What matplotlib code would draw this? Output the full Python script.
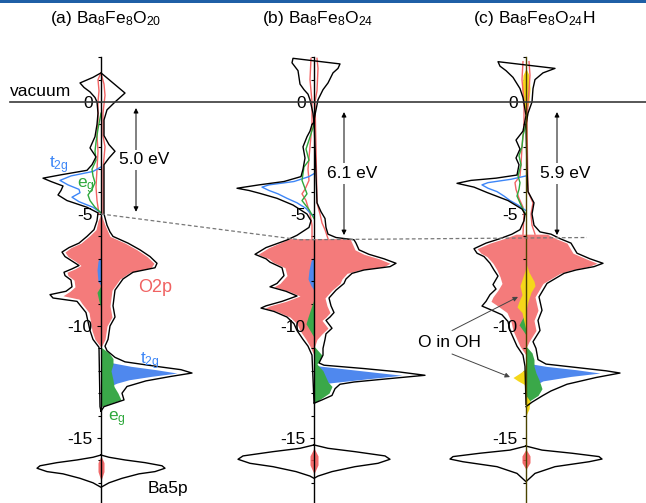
import numpy as np
import matplotlib.pyplot as plt

plt.rcParams['font.family'] = ['Liberation Sans', 'DejaVu Sans']
plt.rcParams['mathtext.fontset'] = 'custom'
plt.rcParams['mathtext.rm'] = 'Liberation Sans'
plt.rcParams['mathtext.it'] = 'Liberation Sans'
plt.rcParams['mathtext.default'] = 'regular'
plt.rcParams['axes.unicode_minus'] = False

# ---- DOS: (energy in eV, width; left = spin up, right = spin down)
# panel (a) Ba8Fe8O20
A_TOT_L = [(1.3, 0), (1.1, -8), (0.85, -21), (0.65, -17), (0.45, -11), (0.2, -6), (0.0, -4),
           (-0.5, -3), (-1.0, -4), (-1.55, -6), (-2.05, -11), (-2.45, -5), (-2.8, -9), (-3.05, -14),
           (-3.25, -40), (-3.4, -58), (-3.55, -50), (-3.75, -38), (-3.95, -40), (-4.15, -43),
           (-4.4, -34), (-4.7, -14), (-4.95, -3), (-5.3, -4), (-5.7, -7), (-6.0, -14), (-6.3, -22),
           (-6.5, -32), (-6.7, -39), (-6.9, -36), (-7.1, -29), (-7.3, -22), (-7.45, -29), (-7.6, -37),
           (-7.75, -36), (-7.95, -30), (-8.25, -29), (-8.45, -35), (-8.6, -51), (-8.75, -48),
           (-8.9, -24), (-9.4, -15), (-10.2, -11), (-10.6, -8), (-10.95, -2), (-13.6, -1), (-13.8, 0)]
A_TOT_R = [(1.3, 0), (1.0, 8), (0.7, 16), (0.4, 24), (0.2, 19), (0.0, 14), (-0.35, 6), (-0.8, 3),
           (-1.5, 3), (-1.9, 8), (-2.2, 14), (-2.5, 8), (-2.8, 3), (-5.0, 3), (-5.5, 6), (-5.8, 9),
           (-6.0, 12), (-6.3, 27), (-6.6, 39), (-6.9, 49), (-7.2, 56), (-7.4, 54), (-7.6, 32),
           (-7.9, 22), (-8.4, 14), (-9.1, 12), (-9.6, 14), (-10.0, 9), (-10.6, 7), (-10.9, 4),
           (-11.1, 6), (-11.4, 14), (-11.6, 24), (-11.8, 55), (-11.95, 80), (-12.1, 91), (-12.25, 70),
           (-12.45, 45), (-12.7, 26), (-13.0, 21), (-13.3, 23), (-13.6, 3), (-13.8, 0)]
A_O2P_LINE_L = [(1.3, 0), (1.0, -3), (0.5, -2), (0.0, -3), (-0.8, -3), (-1.5, -4), (-2.2, -3),
                (-3.0, -4), (-3.8, -5), (-4.4, -4), (-5.0, -2)]
A_O2P_LINE_R = [(1.3, 0), (0.8, 3), (0.3, 4), (-0.5, 2), (-1.5, 2), (-2.0, 4), (-3.0, 2), (-5.0, 2)]
A_O2P_FILL_L = [(-5.0, 0), (-5.3, -3), (-5.7, -5), (-6.0, -12), (-6.3, -20), (-6.5, -30), (-6.7, -36),
                (-6.9, -33), (-7.1, -26), (-7.3, -20), (-7.45, -26), (-7.6, -34), (-7.75, -33),
                (-7.95, -27), (-8.25, -26), (-8.45, -31), (-8.65, -38), (-8.8, -22), (-9.0, -19),
                (-9.4, -12), (-10.2, -9), (-10.6, -6), (-10.95, 0)]
A_O2P_FILL_R = [(-5.0, 0), (-5.5, 4), (-5.8, 7), (-6.0, 9), (-6.3, 24), (-6.6, 36), (-6.9, 46),
                (-7.2, 53), (-7.4, 50), (-7.6, 29), (-7.9, 19), (-8.4, 11), (-9.1, 9), (-9.6, 11),
                (-10.0, 6), (-10.6, 4), (-10.95, 0)]
A_T2G_LINE_L = [(-2.9, 0), (-3.1, -8), (-3.3, -30), (-3.5, -41), (-3.7, -33), (-3.9, -22), (-4.05, -21),
                (-4.25, -29), (-4.45, -22), (-4.7, -8), (-4.95, 0)]
A_T2G_FILL_L = [(-6.9, 0), (-7.1, -3), (-7.5, -4), (-8.0, -3), (-8.2, 0)]
A_T2G_FILL_R = [(-11.6, 0), (-11.65, 12), (-11.8, 30), (-11.95, 55), (-12.1, 76), (-12.25, 50),
                (-12.4, 28), (-12.55, 16), (-12.7, 8), (-12.9, 0)]
A_EG_LINE_L = [(-0.5, 0), (-1.2, -3), (-1.8, -5), (-2.2, -6), (-2.6, -5), (-3.0, -9), (-3.3, -8),
               (-3.6, -6), (-3.9, -9), (-4.15, -13), (-4.4, -11), (-4.7, -6), (-4.95, 0)]
A_EG_FILL_L = [(-8.2, 0), (-8.5, -4), (-8.9, -2), (-9.2, 0)]
A_EG_FILL_R = [(-10.95, 0), (-11.2, 8), (-11.45, 12), (-11.7, 12), (-12.0, 10), (-12.4, 12),
               (-12.7, 13), (-13.0, 17), (-13.3, 20), (-13.6, 0)]
A_BA = [(-15.76, 0), (-15.86, 8), (-15.98, 24), (-16.1, 44), (-16.24, 61), (-16.35, 64), (-16.5, 54),
        (-16.6, 38), (-16.8, 21), (-17.0, 8), (-17.2, 0)]
A_BA_RED = [(-15.8, 0), (-16.1, 3), (-16.5, 3), (-16.9, 0)]

# panel (b) Ba8Fe8O24
B_TOT_L = [(1.95, -21), (1.75, -22), (1.4, -16), (1.1, -15), (0.8, -14), (0.55, -10), (0.35, -6),
           (0.1, -4), (-0.1, -3), (-0.5, -1), (-0.9, 0), (-1.0, -2), (-1.3, -4), (-1.55, -7),
           (-2.0, -11), (-2.5, -9), (-3.0, -11), (-3.33, -13), (-3.55, -30), (-3.7, -55), (-3.85, -77),
           (-3.95, -65), (-4.08, -54), (-4.3, -37), (-4.6, -21), (-4.8, -14), (-5.0, -7), (-5.3, -3),
           (-5.6, -5), (-5.95, -17), (-6.16, -27), (-6.5, -48), (-6.8, -59), (-7.0, -48), (-7.15, -44),
           (-7.4, -32), (-7.75, -30), (-8.1, -37), (-8.25, -44), (-8.45, -28), (-8.66, -17),
           (-8.9, -32), (-9.1, -48), (-9.2, -53), (-9.35, -40), (-9.6, -27), (-9.9, -20),
           (-10.2, -17), (-10.6, -11), (-10.9, -6), (-11.3, -2), (-13.4, 0)]
B_TOT_R = [(1.7, 26), (1.5, 24), (1.3, 19), (0.85, 14), (0.55, 9), (0.1, 4), (-0.8, 0), (-2.0, 1),
           (-4.5, 3), (-4.9, 7), (-5.2, 11), (-5.6, 12), (-5.9, 14), (-6.05, 22), (-6.15, 40),
           (-6.3, 42), (-6.6, 45), (-6.8, 55), (-7.0, 70), (-7.2, 82), (-7.35, 76), (-7.5, 50),
           (-7.65, 38), (-7.9, 32), (-8.1, 30), (-8.4, 22), (-8.75, 15), (-9.1, 17), (-9.4, 20),
           (-9.6, 16), (-9.75, 12), (-10.1, 18), (-10.35, 12), (-10.6, 11), (-11.0, 9), (-11.3, 9),
           (-11.65, 5), (-11.75, 10), (-11.9, 50), (-12.05, 85), (-12.2, 111), (-12.35, 75),
           (-12.5, 40), (-12.6, 26), (-12.8, 21), (-13.1, 18), (-13.3, 8), (-13.45, 0)]
B_O2P_LINE_L = [(1.95, -3), (1.0, -4), (0.0, -2), (-1.0, -2), (-2.0, -4), (-3.0, -6), (-3.5, -5),
                (-3.9, -9), (-4.1, -12), (-4.4, -8), (-5.0, -4), (-5.5, -2), (-6.1, -2)]
B_O2P_LINE_R = [(1.95, 3), (1.5, 4), (0.5, 3), (0.0, 1), (-2.0, 2), (-4.5, 3), (-5.0, 6), (-5.4, 8),
                (-5.7, 11), (-6.1, 14)]
B_O2P_FILL_L = [(-6.1, 0), (-6.1, -24), (-6.5, -45), (-6.8, -56), (-7.0, -45), (-7.15, -41),
                (-7.4, -29), (-7.75, -27), (-8.1, -34), (-8.25, -40), (-8.45, -25), (-8.66, -14),
                (-8.9, -28), (-9.1, -44), (-9.2, -49), (-9.35, -37), (-9.6, -24), (-9.9, -17),
                (-10.2, -14), (-10.6, -8), (-10.9, -4), (-11.3, 0)]
B_O2P_FILL_R = [(-6.1, 0), (-6.1, 36), (-6.3, 38), (-6.6, 41), (-6.8, 50), (-7.0, 65), (-7.2, 76),
                (-7.35, 70), (-7.5, 45), (-7.65, 33), (-7.9, 28), (-8.1, 26), (-8.4, 18), (-8.75, 11),
                (-9.1, 13), (-9.4, 16), (-9.6, 12), (-9.75, 8), (-10.1, 14), (-10.35, 8), (-10.6, 3),
                (-11.0, 0)]
B_T2G_LINE_L = [(-3.2, 0), (-3.33, -5), (-3.55, -20), (-3.7, -45), (-3.8, -52), (-3.95, -45),
                (-4.1, -36), (-4.3, -27), (-4.5, -17), (-4.75, -8), (-5.0, -3), (-5.1, 0)]
B_T2G_FILL_L = [(-6.9, 0), (-7.1, -3), (-7.5, -5), (-7.9, -6), (-8.2, -3), (-8.4, 0)]
B_T2G_FILL_R = [(-11.75, 0), (-11.8, 8), (-12.0, 48), (-12.2, 88), (-12.35, 55), (-12.55, 14),
                (-12.8, 5), (-13.0, 0)]
B_EG_LINE_L = [(-1.0, 0), (-1.7, -5), (-2.1, -8), (-2.6, -5), (-2.9, -10), (-3.5, -12), (-4.1, -7),
               (-4.4, -12), (-4.8, -5), (-5.2, 0)]
B_EG_FILL_L = [(-8.8, 0), (-9.2, -3), (-9.6, -6), (-9.9, -8), (-10.2, -4), (-10.5, 0)]
B_EG_FILL_R = [(-10.9, 0), (-11.1, 4), (-11.3, 8), (-11.5, 6), (-11.7, 3), (-12.0, 9), (-12.3, 12),
               (-12.5, 14), (-12.7, 18), (-13.0, 15), (-13.3, 5), (-13.45, 0)]
B_BA = [(-15.31, 0), (-15.46, 14), (-15.61, 41), (-15.8, 71), (-15.95, 76), (-16.13, 64),
        (-16.28, 41), (-16.5, 18), (-16.7, 4), (-16.8, 0)]
B_BA_RED = [(-15.45, 0), (-15.8, 4), (-16.2, 4), (-16.6, 0)]

# panel (c) Ba8Fe8O24H
C_TOT_L = [(1.8, -28), (1.6, -26), (1.4, -20), (1.1, -13), (0.6, -6), (0.2, -3), (-0.6, 0),
           (-1.3, -3), (-1.7, -10), (-2.1, -6), (-2.5, -10), (-2.8, -7), (-3.26, -9), (-3.4, -30),
           (-3.5, -55), (-3.63, -69), (-3.8, -52), (-4.04, -39), (-4.4, -18), (-4.78, -4), (-5.0, -1),
           (-5.3, -2), (-5.7, -6), (-5.9, -14), (-6.1, -26), (-6.3, -40), (-6.55, -52), (-6.75, -49),
           (-6.9, -42), (-7.2, -36), (-7.5, -32), (-7.77, -28), (-8.15, -33), (-8.35, -30),
           (-8.6, -36), (-8.9, -40), (-9.11, -44), (-9.3, -34), (-9.5, -24), (-9.8, -18),
           (-10.2, -16), (-10.6, -12), (-10.9, -9), (-11.3, -3), (-11.8, -1), (-13.5, 0)]
C_TOT_R = [(1.5, 29), (1.3, 17), (1.0, 9), (0.6, 7), (0.0, 6), (-0.5, 2), (-1.0, 0), (-3.0, 1),
           (-4.0, 2), (-4.5, 8), (-5.0, 6), (-5.5, 8), (-5.8, 14), (-5.9, 25), (-6.1, 34), (-6.3, 45),
           (-6.75, 51), (-7.0, 64), (-7.2, 77), (-7.35, 68), (-7.5, 50), (-7.65, 38), (-8.1, 21),
           (-8.7, 13), (-9.3, 16), (-9.75, 12), (-10.2, 14), (-10.7, 7), (-11.0, 10), (-11.5, 12),
           (-11.7, 20), (-11.85, 50), (-12.0, 80), (-12.1, 94), (-12.3, 70), (-12.6, 41),
           (-12.9, 25), (-13.1, 17), (-13.4, 6), (-13.6, 0)]
C_O2P_LINE_L = [(1.8, -3), (1.0, -4), (0.0, -2), (-1.0, -2), (-2.0, -4), (-2.8, -5), (-3.3, -6),
                (-3.6, -11), (-3.9, -10), (-4.3, -7), (-4.7, -3), (-5.0, -2), (-5.9, -3)]
C_O2P_LINE_R = [(1.8, 3), (1.2, 4), (0.5, 3), (0.0, 2), (-1.0, 1), (-4.0, 2), (-4.5, 7), (-5.0, 5),
                (-5.5, 6), (-5.9, 9)]
C_O2P_FILL_L = [(-5.9, 0), (-5.9, -10), (-6.1, -22), (-6.3, -36), (-6.55, -49), (-6.75, -45),
                (-6.9, -39), (-7.2, -33), (-7.5, -29), (-7.8, -26), (-8.1, -24), (-8.4, -28),
                (-8.7, -33), (-8.9, -35), (-9.05, -30), (-9.4, -19), (-9.8, -15), (-10.2, -13),
                (-10.6, -9), (-10.9, -6), (-11.3, 0)]
C_O2P_FILL_R = [(-5.9, 0), (-5.9, 21), (-6.1, 30), (-6.3, 41), (-6.75, 47), (-7.0, 60), (-7.2, 71),
                (-7.35, 62), (-7.5, 45), (-7.65, 34), (-8.1, 17), (-8.7, 9), (-9.3, 12), (-9.75, 8),
                (-10.2, 10), (-10.7, 3), (-11.0, 0)]
C_T2G_LINE_L = [(-3.3, 0), (-3.45, -15), (-3.6, -38), (-3.7, -44), (-3.85, -38), (-4.0, -29),
                (-4.2, -22), (-4.4, -16), (-4.6, -8), (-4.85, 0)]
C_T2G_FILL_R = [(-11.65, 0), (-11.8, 20), (-11.95, 50), (-12.1, 74), (-12.25, 45), (-12.45, 17),
                (-12.7, 6), (-12.9, 0)]
C_EG_LINE_L = [(-1.0, 0), (-1.5, -3), (-2.0, -4), (-2.4, -7), (-2.8, -5), (-3.3, -8), (-3.6, -6),
               (-3.9, -7), (-4.2, -9), (-4.5, -6), (-4.9, -2), (-5.0, 0)]
C_EG_FILL_L = [(-9.4, 0), (-9.7, -4), (-9.95, -7), (-10.2, -3), (-10.4, 0)]
C_EG_FILL_R = [(-10.9, 0), (-11.2, 6), (-11.5, 8), (-11.8, 8), (-12.1, 10), (-12.4, 13), (-12.8, 16),
               (-13.1, 12), (-13.3, 5), (-13.5, 0)]
C_OH_TOP = [(1.5, 0), (1.2, 3), (0.6, 4), (0.0, 3), (-0.5, 0)]
C_OH_L = [(-7.4, 0), (-7.8, -3), (-8.2, -6), (-8.6, -4), (-8.9, -7), (-9.15, -9), (-9.4, -4),
          (-9.8, -2), (-10.2, 0), (-11.9, 0), (-12.1, -6), (-12.3, -13), (-12.45, -8), (-12.6, -2),
          (-12.8, 0)]
C_OH_R = [(-7.2, 0), (-7.6, 3), (-8.0, 8), (-8.2, 9), (-8.5, 5), (-8.9, 2), (-9.3, 0), (-13.1, 0),
          (-13.35, 4), (-13.7, 3), (-14.0, 0)]
C_BA = [(-15.36, 0), (-15.54, 16), (-15.68, 46), (-15.83, 73), (-15.94, 76), (-16.06, 63),
        (-16.28, 29), (-16.58, 9), (-16.95, 0)]
C_BA_RED = [(-15.5, 0), (-15.8, 4), (-16.1, 4), (-16.4, 0)]

TITLES = ['(a) Ba$_8$Fe$_8$O$_{20}$', '(b) Ba$_8$Fe$_8$O$_{24}$', '(c) Ba$_8$Fe$_8$O$_{24}$H']
GAPS = ['5.0 eV', '6.1 eV', '5.9 eV']
GAP_TOP = [-0.27, -0.45, -0.45]
GAP_BOT = [-4.9, -5.94, -5.94]
E_FERMI = [-5.0, -6.1, -5.9]

RED = '#f47b7b'
RED_LINE = '#f26464'
BLUE = '#4f88ee'
BLUE_LINE = '#3d86f7'
GREEN = '#3aa849'
GREEN_LINE = '#2ea83c'
YELLOW = '#f5d71a'

W = 646
E_TOP, E_BOT = 102 / 22.4, -401 / 22.4
AXIS_X = [101, 314, 526]

fig = plt.figure(figsize=(6.46, 5.03), dpi=100)


def xy(pts):
    e = np.array([p[0] for p in pts], dtype=float)
    w = np.array([p[1] for p in pts], dtype=float)
    return e, w


def fill(ax, pts, color, z=1):
    e, w = xy(pts)
    ax.fill_betweenx(e, 0, w, color=color, lw=0, zorder=z)


def line(ax, pts, color, lw=1.0):
    e, w = xy(pts)
    ax.plot(w, e, color=color, lw=lw, zorder=3)


def outline(ax, left, right):
    el, wl = xy(left)
    er, wr = xy(right)
    ax.plot(np.r_[wl[::-1], wr], np.r_[el[::-1], er], color='k', lw=1.0, zorder=4)


def ba5p(ax, pts, red):
    e, w = xy(pts)
    er, wr = xy(red)
    ax.fill_betweenx(er, -wr, wr, color='#f05050', alpha=0.85, lw=0, zorder=2)
    ax.plot(np.r_[-w, w[::-1]], np.r_[e, e[::-1]], color='k', lw=1.0, zorder=4)


def panel(x0):
    ax = fig.add_axes([0, 0, 1, 1])
    ax.set_xlim(-x0, W - x0)
    ax.set_ylim(E_BOT, E_TOP)
    ax.patch.set_visible(False)
    for s in ['top', 'right', 'bottom']:
        ax.spines[s].set_visible(False)
    ax.spines['left'].set_position(('data', 0))
    ax.spines['left'].set_bounds(E_BOT, 2)
    ax.spines['left'].set_zorder(5)
    ax.spines['left'].set_linewidth(1.0)
    ax.set_xticks([])
    ax.set_yticks([0, -5, -10, -15])
    ax.set_yticks(range(-17, 3), minor=True)
    ax.tick_params(axis='y', which='major', length=3, width=0.8, labelsize=12.5, pad=3)
    ax.tick_params(axis='y', which='minor', length=2.5, width=0.8)
    return ax


# (a)
ax = panel(AXIS_X[0])
fill(ax, A_O2P_FILL_L, RED); fill(ax, A_O2P_FILL_R, RED)
fill(ax, A_T2G_FILL_L, BLUE); fill(ax, A_T2G_FILL_R, BLUE)
fill(ax, A_EG_FILL_L, GREEN, 2); fill(ax, A_EG_FILL_R, GREEN, 2)
line(ax, A_O2P_LINE_L, RED_LINE); line(ax, A_O2P_LINE_R, RED_LINE)
line(ax, A_T2G_LINE_L, BLUE_LINE); line(ax, A_EG_LINE_L, GREEN_LINE)
outline(ax, A_TOT_L, A_TOT_R)
ba5p(ax, A_BA, A_BA_RED)

# (b)
ax = panel(AXIS_X[1])
fill(ax, B_O2P_FILL_L, RED); fill(ax, B_O2P_FILL_R, RED)
fill(ax, B_T2G_FILL_L, BLUE); fill(ax, B_T2G_FILL_R, BLUE)
fill(ax, B_EG_FILL_L, GREEN, 2); fill(ax, B_EG_FILL_R, GREEN, 2)
line(ax, B_O2P_LINE_L, RED_LINE); line(ax, B_O2P_LINE_R, RED_LINE)
line(ax, B_T2G_LINE_L, BLUE_LINE); line(ax, B_EG_LINE_L, GREEN_LINE)
outline(ax, B_TOT_L, B_TOT_R)
ba5p(ax, B_BA, B_BA_RED)

# (c)
ax = panel(AXIS_X[2])
fill(ax, C_O2P_FILL_L, RED); fill(ax, C_O2P_FILL_R, RED)
fill(ax, C_T2G_FILL_R, BLUE)
fill(ax, C_EG_FILL_L, GREEN, 2); fill(ax, C_EG_FILL_R, GREEN, 2)
e, w = xy(C_OH_TOP)
ax.fill_betweenx(e, -w, w, color=YELLOW, lw=0, zorder=2)
fill(ax, C_OH_L, YELLOW, 2); fill(ax, C_OH_R, YELLOW, 2)
line(ax, C_O2P_LINE_L, RED_LINE); line(ax, C_O2P_LINE_R, RED_LINE)
line(ax, C_T2G_LINE_L, BLUE_LINE); line(ax, C_EG_LINE_L, GREEN_LINE)
outline(ax, C_TOT_L, C_TOT_R)
ba5p(ax, C_BA, C_BA_RED)
ax.spines['left'].set_color('#4a4300')

# overlay: titles, vacuum level, gaps, labels
ax0 = fig.add_axes([0, 0, 1, 1])
ax0.set_xlim(0, W)
ax0.set_ylim(E_BOT, E_TOP)
ax0.axis('off')
ax0.axhspan(4.41, E_TOP, color='#1f5fa6', lw=0)

for x, t in zip([50, 262, 473], TITLES):
    ax0.text(x, 3.75, t, fontsize=12.5, ha='left', va='center')

ax0.plot([10, W], [0, 0], color='#3a3a3a', lw=1.2, zorder=6)
ax0.text(10, 0.12, 'vacuum', fontsize=12.5, ha='left', va='bottom')

ax0.plot([AXIS_X[0], 300, 587], [E_FERMI[0], -6.15, -6.05], color='#777777', lw=0.9,
         ls=(0, (3, 2)))

for x, g, top, bot in zip([136, 344, 557], GAPS, GAP_TOP, GAP_BOT):
    ax0.annotate('', xy=(x, bot), xytext=(x, top),
                 arrowprops=dict(arrowstyle='<|-|>', color='k', lw=0.7,
                                 mutation_scale=7, shrinkA=0, shrinkB=0))
    ax0.text(x + 8, (top + bot) / 2, g, fontsize=12.5, ha='center', va='center',
             bbox=dict(boxstyle='square,pad=0.15', fc='white', ec='none'))

ax0.text(138, -8.26, 'O2p', fontsize=13, color='#f06262', ha='left', va='center')
ax0.text(49, -2.8, 't$_{2g}$', fontsize=12.5, color=BLUE_LINE, ha='left', va='center')
ax0.text(77, -3.75, 'e$_g$', fontsize=12.5, color=GREEN_LINE, ha='left', va='center')
ax0.text(140, -11.55, 't$_{2g}$', fontsize=12.5, color=BLUE_LINE, ha='left', va='center')
ax0.text(108, -14.15, 'e$_g$', fontsize=12.5, color=GREEN_LINE, ha='left', va='center')
ax0.text(148, -17.25, 'Ba5p', fontsize=12.5, ha='left', va='center')

ax0.text(418, -10.75, 'O in OH', fontsize=12.5, ha='left', va='center')
for end in [(518, -8.7), (510, -12.28)]:
    start = (452, -10.2) if end[1] > -10 else (452, -11.25)
    ax0.annotate('', xy=end, xytext=start,
                 arrowprops=dict(arrowstyle='-|>', color='#444444', lw=0.7,
                                 mutation_scale=7, shrinkA=0, shrinkB=0))

fig.savefig('out.png', dpi=100)
